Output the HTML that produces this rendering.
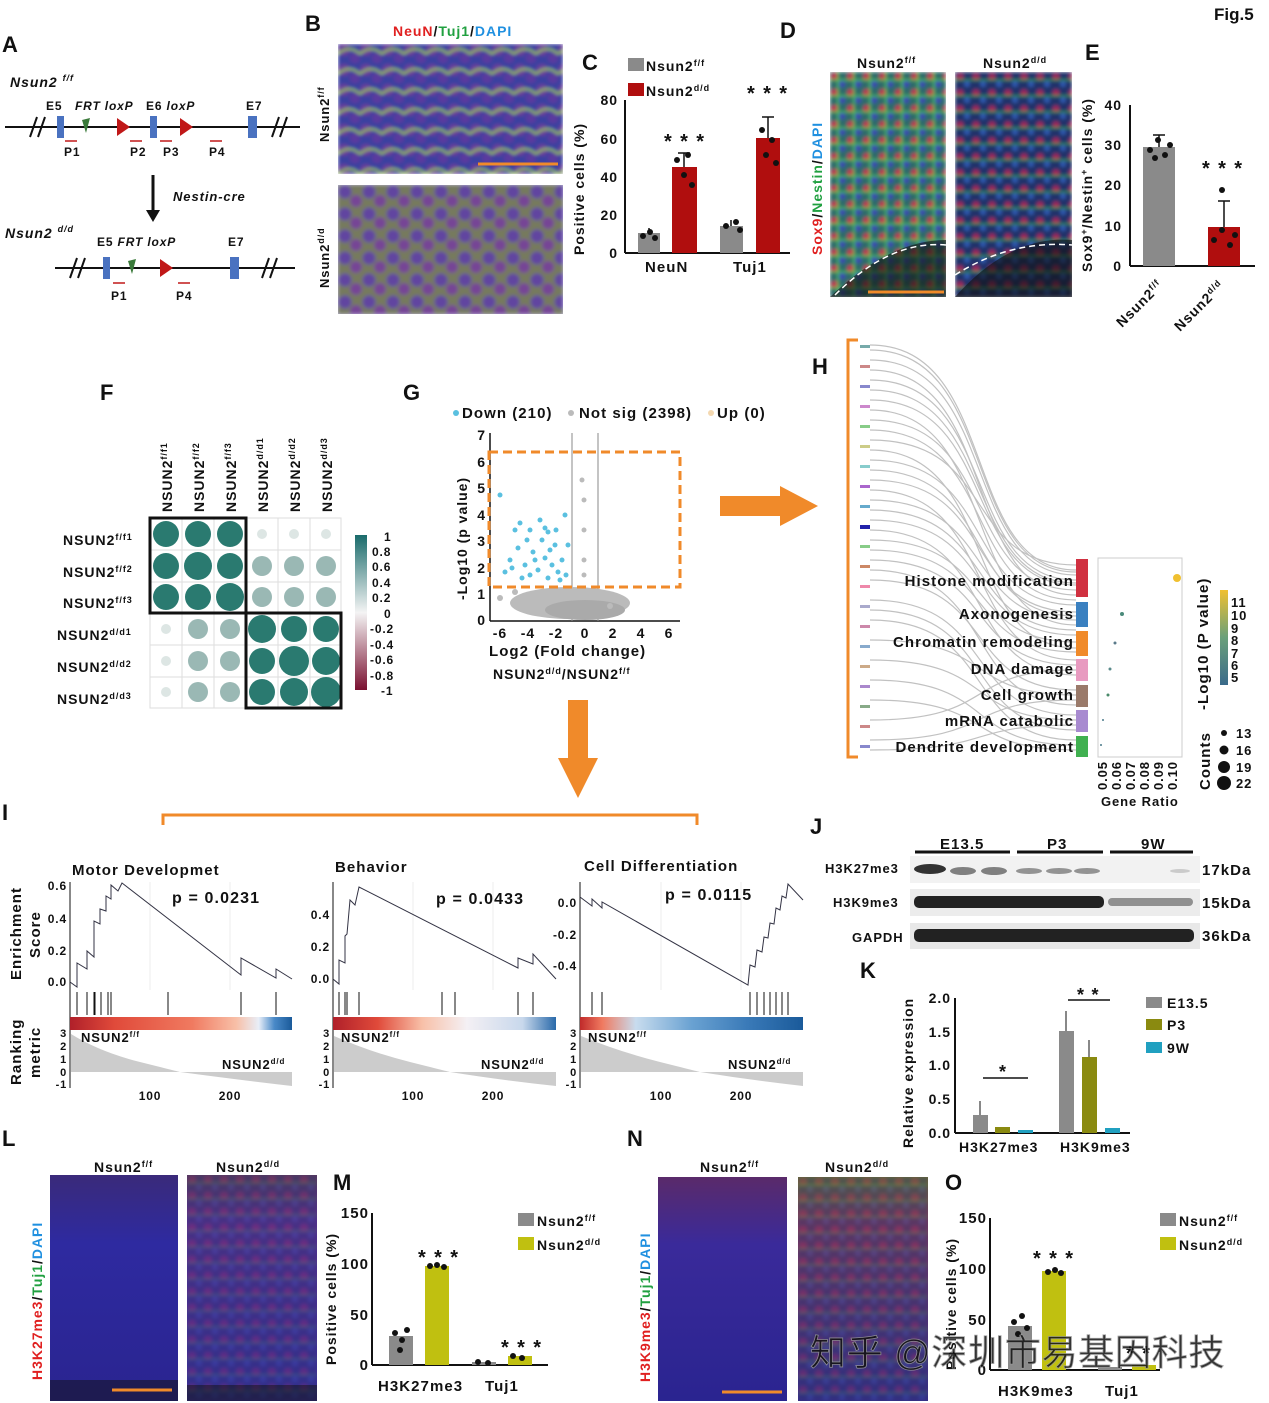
<!DOCTYPE html>
<html><head><meta charset="utf-8"><style>
html,body{margin:0;padding:0;background:#fff}
svg{display:block}
text{font-family:"Liberation Sans",Arial,sans-serif;font-weight:bold;fill:#111;letter-spacing:0.07em}
</style></head><body>
<svg width="1269" height="1403" viewBox="0 0 1269 1403" xmlns="http://www.w3.org/2000/svg">
<defs>
<filter id="bl"><feGaussianBlur stdDeviation="1.8"/></filter>
<pattern id="nuc" width="22" height="20" patternUnits="userSpaceOnUse">
<rect width="22" height="20" fill="#3a3fa0"/>
<circle cx="6" cy="6" r="6" fill="#6a3c9a"/><circle cx="17" cy="14" r="5.5" fill="#5a3a9e"/>
<path d="M0 10 Q11 0 22 10" stroke="#9cc63a" stroke-width="2" fill="none"/>
</pattern>
<pattern id="nuc2" width="24" height="22" patternUnits="userSpaceOnUse">
<rect width="24" height="22" fill="#8a9a3a"/>
<circle cx="7" cy="7" r="6.5" fill="#6a4aa0"/><circle cx="18" cy="16" r="6" fill="#8a4a90"/>
</pattern>
<pattern id="sox" width="16" height="16" patternUnits="userSpaceOnUse">
<rect width="16" height="16" fill="#2d6a6a"/>
<circle cx="5" cy="5" r="4" fill="#c03050"/><circle cx="12" cy="12" r="3.5" fill="#3a4ab0"/>
<path d="M0 8 L16 8 M8 0 L8 16" stroke="#4fc84f" stroke-width="1.5"/>
</pattern>
<pattern id="sox2" width="16" height="16" patternUnits="userSpaceOnUse">
<rect width="16" height="16" fill="#24306a"/>
<circle cx="5" cy="5" r="3.5" fill="#a02858"/><circle cx="12" cy="12" r="3" fill="#2e5ab0"/>
<path d="M0 8 L16 8" stroke="#3aa84a" stroke-width="1.2"/>
</pattern>
<linearGradient id="gL" x1="0" y1="0" x2="0" y2="1"><stop offset="0" stop-color="#3a2a7a"/><stop offset="0.3" stop-color="#2e2aa0"/><stop offset="1" stop-color="#2a2490"/></linearGradient>
<linearGradient id="gL2" x1="0" y1="0" x2="0" y2="1"><stop offset="0" stop-color="#5a3a60"/><stop offset="0.2" stop-color="#5a3090"/><stop offset="1" stop-color="#3a2e9a"/></linearGradient>
<linearGradient id="gN" x1="0" y1="0" x2="0" y2="1"><stop offset="0" stop-color="#5a2a6a"/><stop offset="0.3" stop-color="#3a2a9a"/><stop offset="1" stop-color="#2a2490"/></linearGradient>
<linearGradient id="gN2" x1="0" y1="0" x2="0" y2="1"><stop offset="0" stop-color="#6a6a3a"/><stop offset="0.2" stop-color="#7a3a60"/><stop offset="1" stop-color="#3a2e8a"/></linearGradient>
<linearGradient id="cbF" x1="0" y1="0" x2="0" y2="1"><stop offset="0" stop-color="#1a6b6b"/><stop offset="0.5" stop-color="#f4f4f4"/><stop offset="1" stop-color="#7a1030"/></linearGradient>
<linearGradient id="cbH" x1="0" y1="0" x2="0" y2="1"><stop offset="0" stop-color="#f0c030"/><stop offset="0.5" stop-color="#6aa07a"/><stop offset="1" stop-color="#3a6a8a"/></linearGradient>
<linearGradient id="rb1" x1="0" x2="1"><stop offset="0" stop-color="#b0202a"/><stop offset="0.2" stop-color="#e04a3a"/><stop offset="0.55" stop-color="#f07a60"/><stop offset="0.75" stop-color="#f8c0a8"/><stop offset="0.85" stop-color="#e8eef8"/><stop offset="0.92" stop-color="#4a8ac8"/><stop offset="1" stop-color="#1a5a9a"/></linearGradient>
<linearGradient id="rb2" x1="0" x2="1"><stop offset="0" stop-color="#b0202a"/><stop offset="0.2" stop-color="#e04a3a"/><stop offset="0.4" stop-color="#f8c0a8"/><stop offset="0.6" stop-color="#f4f0f4"/><stop offset="0.85" stop-color="#c8d8ec"/><stop offset="1" stop-color="#2a6aaa"/></linearGradient>
<linearGradient id="rb3" x1="0" x2="1"><stop offset="0" stop-color="#c02a2a"/><stop offset="0.1" stop-color="#f07a60"/><stop offset="0.25" stop-color="#c8dcee"/><stop offset="0.5" stop-color="#6aa2d2"/><stop offset="0.75" stop-color="#3a7ab8"/><stop offset="1" stop-color="#1a5a9a"/></linearGradient>
</defs>

<text x="1214" y="20" font-size="17" style="letter-spacing:0">Fig.5</text>

<!-- A -->
<text x="2" y="52" font-size="22">A</text>
<text x="10" y="87" font-size="14" font-style="italic">Nsun2 <tspan font-size="9" dy="-6">f/f</tspan></text>
<line x1="5" y1="127" x2="300" y2="127" stroke="#111" stroke-width="2"/>
<path d="M30 137 L37 117 M38 137 L45 117 M272 137 L279 117 M280 137 L287 117" stroke="#111" stroke-width="2"/>
<rect x="57" y="116" width="7" height="22" fill="#4a72c0"/><rect x="150" y="116" width="7" height="22" fill="#4a72c0"/><rect x="248" y="116" width="9" height="22" fill="#4a72c0"/>
<polygon points="82,120 90,118 86,133" fill="#3a7a3a"/>
<polygon points="117,118 130,127 117,136" fill="#c01818"/><polygon points="180,118 193,127 180,136" fill="#c01818"/>
<text x="46" y="110" font-size="12">E5</text><text x="75" y="110" font-size="12" font-style="italic">FRT loxP</text><text x="146" y="110" font-size="12">E6 <tspan font-style="italic">loxP</tspan></text><text x="246" y="110" font-size="12">E7</text>
<g stroke="#c01818" stroke-width="1.5"><line x1="65" y1="141" x2="77" y2="141"/><line x1="130" y1="141" x2="142" y2="141"/><line x1="160" y1="141" x2="172" y2="141"/><line x1="210" y1="141" x2="222" y2="141"/></g>
<text x="64" y="156" font-size="12">P1</text><text x="130" y="156" font-size="12">P2</text><text x="163" y="156" font-size="12">P3</text><text x="209" y="156" font-size="12">P4</text>
<line x1="153" y1="175" x2="153" y2="212" stroke="#111" stroke-width="3"/><polygon points="146,210 160,210 153,222" fill="#111"/>
<text x="173" y="201" font-size="13" font-style="italic">Nestin-cre</text>
<text x="5" y="238" font-size="14" font-style="italic">Nsun2 <tspan font-size="9" dy="-6">d/d</tspan></text>
<line x1="55" y1="268" x2="295" y2="268" stroke="#111" stroke-width="2"/>
<path d="M70 278 L77 258 M78 278 L85 258 M262 278 L269 258 M270 278 L277 258" stroke="#111" stroke-width="2"/>
<rect x="103" y="257" width="7" height="22" fill="#4a72c0"/><rect x="230" y="257" width="9" height="22" fill="#4a72c0"/>
<polygon points="128,261 136,259 132,274" fill="#3a7a3a"/><polygon points="160,259 173,268 160,277" fill="#c01818"/>
<text x="97" y="246" font-size="12">E5 <tspan font-style="italic">FRT loxP</tspan></text><text x="228" y="246" font-size="12">E7</text>
<line x1="113" y1="283" x2="125" y2="283" stroke="#c01818" stroke-width="1.5"/><line x1="178" y1="283" x2="190" y2="283" stroke="#c01818" stroke-width="1.5"/>
<text x="111" y="300" font-size="12">P1</text><text x="176" y="300" font-size="12">P4</text>

<!-- B -->
<text x="305" y="31" font-size="22">B</text>
<text x="393" y="36" font-size="14"><tspan fill="#e02020">NeuN</tspan>/<tspan fill="#20a040">Tuj1</tspan>/<tspan fill="#2090e0">DAPI</tspan></text>
<svg x="338" y="44" width="225" height="130"><rect width="225" height="130" fill="url(#nuc)" filter="url(#bl)"/></svg>
<svg x="338" y="185" width="225" height="129"><rect width="225" height="129" fill="url(#nuc2)" filter="url(#bl)"/><rect width="225" height="129" fill="#5040a0" opacity="0.35"/></svg>
<line x1="478" y1="164" x2="558" y2="164" stroke="#f08a2a" stroke-width="3"/>
<text transform="translate(329,142) rotate(-90)" font-size="13">Nsun2<tspan font-size="9" dy="-5">f/f</tspan></text>
<text transform="translate(329,288) rotate(-90)" font-size="13">Nsun2<tspan font-size="9" dy="-5">d/d</tspan></text>

<!-- C -->
<text x="582" y="70" font-size="22">C</text>
<rect x="628" y="58" width="16" height="13" fill="#8a8a8a"/><text x="646" y="71" font-size="14">Nsun2<tspan font-size="9" dy="-5">f/f</tspan></text>
<rect x="628" y="83" width="16" height="13" fill="#b00e0e"/><text x="646" y="96" font-size="14">Nsun2<tspan font-size="9" dy="-5">d/d</tspan></text>
<line x1="625" y1="100" x2="625" y2="253" stroke="#111" stroke-width="2"/><line x1="625" y1="253" x2="790" y2="253" stroke="#111" stroke-width="2"/>
<g font-size="14" text-anchor="end"><text x="618" y="105">80</text><text x="618" y="144">60</text><text x="618" y="182">40</text><text x="618" y="220">20</text><text x="618" y="258">0</text></g>
<text transform="translate(584,255) rotate(-90)" font-size="14">Positive cells (%)</text>
<rect x="638" y="233" width="22" height="20" fill="#8a8a8a"/><rect x="672" y="167" width="25" height="86" fill="#b00e0e"/>
<rect x="720" y="226" width="23" height="27" fill="#8a8a8a"/><rect x="756" y="138" width="24" height="115" fill="#b00e0e"/>
<g stroke="#111" stroke-width="1.5"><line x1="684" y1="167" x2="684" y2="153"/><line x1="678" y1="153" x2="690" y2="153"/><line x1="768" y1="138" x2="768" y2="117"/><line x1="762" y1="117" x2="774" y2="117"/><line x1="649" y1="233" x2="649" y2="228"/><line x1="731" y1="226" x2="731" y2="220"/></g>
<g fill="#111"><circle cx="643" cy="236" r="3"/><circle cx="650" cy="232" r="3"/><circle cx="655" cy="238" r="3"/><circle cx="677" cy="160" r="3"/><circle cx="688" cy="155" r="3"/><circle cx="684" cy="175" r="3"/><circle cx="692" cy="185" r="3"/><circle cx="726" cy="226" r="3"/><circle cx="736" cy="222" r="3"/><circle cx="740" cy="230" r="3"/><circle cx="762" cy="130" r="3"/><circle cx="772" cy="140" r="3"/><circle cx="766" cy="155" r="3"/><circle cx="776" cy="163" r="3"/></g>
<text x="664" y="148" font-size="20">* * *</text><text x="747" y="100" font-size="20">* * *</text>
<text x="645" y="272" font-size="15">NeuN</text><text x="733" y="272" font-size="15">Tuj1</text>

<!-- D -->
<text x="780" y="38" font-size="22">D</text>
<text x="857" y="68" font-size="14">Nsun2<tspan font-size="9" dy="-5">f/f</tspan></text>
<text x="983" y="68" font-size="14">Nsun2<tspan font-size="9" dy="-5">d/d</tspan></text>
<svg x="830" y="72" width="116" height="225"><rect width="116" height="225" fill="url(#sox)" filter="url(#bl)"/><path d="M0 225 Q60 168 116 168 L116 225Z" fill="#111" opacity="0.6"/></svg>
<svg x="955" y="72" width="117" height="225"><rect width="117" height="225" fill="url(#sox2)" filter="url(#bl)"/><path d="M0 225 Q55 163 117 168 L117 225Z" fill="#111" opacity="0.6"/></svg>
<path d="M835 295 Q890 240 946 245" stroke="#fff" stroke-dasharray="6,4" fill="none" stroke-width="1.5"/>
<path d="M955 275 Q1010 240 1072 245" stroke="#fff" stroke-dasharray="6,4" fill="none" stroke-width="1.5"/>
<line x1="868" y1="292" x2="944" y2="292" stroke="#f08a2a" stroke-width="3"/>
<text transform="translate(822,255) rotate(-90)" font-size="14"><tspan fill="#e02020">Sox9</tspan>/<tspan fill="#20a040">Nestin</tspan>/<tspan fill="#2090e0">DAPI</tspan></text>

<!-- E -->
<text x="1085" y="60" font-size="22">E</text>
<line x1="1130" y1="105" x2="1130" y2="266" stroke="#111" stroke-width="2"/><line x1="1130" y1="266" x2="1255" y2="266" stroke="#111" stroke-width="2"/>
<g font-size="14" text-anchor="end"><text x="1122" y="110">40</text><text x="1122" y="150">30</text><text x="1122" y="190">20</text><text x="1122" y="231">10</text><text x="1122" y="271">0</text></g>
<text transform="translate(1092,272) rotate(-90)" font-size="14">Sox9<tspan font-size="9" dy="-5">+</tspan><tspan dy="5">/Nestin</tspan><tspan font-size="9" dy="-5">+</tspan><tspan dy="5"> cells (%)</tspan></text>
<rect x="1143" y="147" width="32" height="119" fill="#8a8a8a"/><rect x="1208" y="227" width="32" height="39" fill="#b00e0e"/>
<g stroke="#111" stroke-width="1.5"><line x1="1159" y1="147" x2="1159" y2="135"/><line x1="1153" y1="135" x2="1165" y2="135"/><line x1="1224" y1="227" x2="1224" y2="201"/><line x1="1218" y1="201" x2="1230" y2="201"/></g>
<g fill="#111"><circle cx="1150" cy="150" r="3"/><circle cx="1158" cy="140" r="3"/><circle cx="1165" cy="155" r="3"/><circle cx="1170" cy="145" r="3"/><circle cx="1155" cy="158" r="3"/><circle cx="1214" cy="240" r="3"/><circle cx="1222" cy="230" r="3"/><circle cx="1230" cy="245" r="3"/><circle cx="1235" cy="235" r="3"/><circle cx="1222" cy="190" r="3"/></g>
<text x="1202" y="175" font-size="20">* * *</text>
<text transform="translate(1122,328) rotate(-45)" font-size="14">Nsun2<tspan font-size="9" dy="-5">f/f</tspan></text>
<text transform="translate(1180,332) rotate(-45)" font-size="14">Nsun2<tspan font-size="9" dy="-5">d/d</tspan></text>

<!-- F -->
<text x="100" y="400" font-size="22">F</text>
<g font-size="14">
<text transform="translate(172,512) rotate(-90)">NSUN2<tspan font-size="9" dy="-5">f/f1</tspan></text>
<text transform="translate(204,512) rotate(-90)">NSUN2<tspan font-size="9" dy="-5">f/f2</tspan></text>
<text transform="translate(236,512) rotate(-90)">NSUN2<tspan font-size="9" dy="-5">f/f3</tspan></text>
<text transform="translate(268,512) rotate(-90)">NSUN2<tspan font-size="9" dy="-5">d/d1</tspan></text>
<text transform="translate(300,512) rotate(-90)">NSUN2<tspan font-size="9" dy="-5">d/d2</tspan></text>
<text transform="translate(332,512) rotate(-90)">NSUN2<tspan font-size="9" dy="-5">d/d3</tspan></text>
<text x="63" y="545">NSUN2<tspan font-size="9" dy="-5">f/f1</tspan></text>
<text x="63" y="577">NSUN2<tspan font-size="9" dy="-5">f/f2</tspan></text>
<text x="63" y="608">NSUN2<tspan font-size="9" dy="-5">f/f3</tspan></text>
<text x="57" y="640">NSUN2<tspan font-size="9" dy="-5">d/d1</tspan></text>
<text x="57" y="672">NSUN2<tspan font-size="9" dy="-5">d/d2</tspan></text>
<text x="57" y="704">NSUN2<tspan font-size="9" dy="-5">d/d3</tspan></text>
</g>
<g stroke="#ddd" stroke-width="1"><rect x="150" y="518" width="191" height="190" fill="#fff"/>
<path d="M182 518V708M214 518V708M246 518V708M278 518V708M310 518V708M150 550H341M150 582H341M150 613H341M150 645H341M150 677H341"/></g>
<g fill="#2a7a70">
<circle cx="166" cy="534" r="13"/><circle cx="198" cy="534" r="13"/><circle cx="230" cy="534" r="13"/>
<circle cx="166" cy="566" r="13"/><circle cx="198" cy="566" r="14"/><circle cx="230" cy="566" r="13"/>
<circle cx="166" cy="597" r="13"/><circle cx="198" cy="597" r="13"/><circle cx="230" cy="597" r="14"/>
<circle cx="262" cy="629" r="14"/><circle cx="294" cy="629" r="13"/><circle cx="326" cy="629" r="13"/>
<circle cx="262" cy="661" r="13"/><circle cx="294" cy="661" r="15"/><circle cx="326" cy="661" r="14"/>
<circle cx="262" cy="692" r="13"/><circle cx="294" cy="692" r="14"/><circle cx="326" cy="692" r="15"/>
</g>
<g fill="#9ab8b4">
<circle cx="262" cy="566" r="10"/><circle cx="294" cy="566" r="10"/><circle cx="326" cy="566" r="10"/>
<circle cx="262" cy="597" r="10"/><circle cx="294" cy="597" r="10"/><circle cx="326" cy="597" r="10"/>
<circle cx="198" cy="629" r="10"/><circle cx="230" cy="629" r="10"/><circle cx="198" cy="661" r="10"/><circle cx="230" cy="661" r="10"/><circle cx="198" cy="692" r="10"/><circle cx="230" cy="692" r="10"/>
</g>
<g fill="#dde6e4"><circle cx="262" cy="534" r="5"/><circle cx="294" cy="534" r="5"/><circle cx="326" cy="534" r="5"/><circle cx="166" cy="629" r="5"/><circle cx="166" cy="661" r="5"/><circle cx="166" cy="692" r="5"/></g>
<rect x="150" y="518" width="96" height="95" fill="none" stroke="#111" stroke-width="3"/>
<rect x="246" y="613" width="95" height="95" fill="none" stroke="#111" stroke-width="3"/>
<rect x="355" y="535" width="12" height="155" fill="url(#cbF)"/>
<g font-size="12"><text x="384" y="541">1</text><text x="372" y="556">0.8</text><text x="372" y="571">0.6</text><text x="372" y="587">0.4</text><text x="372" y="602">0.2</text><text x="384" y="618">0</text><text x="370" y="633">-0.2</text><text x="370" y="649">-0.4</text><text x="370" y="664">-0.6</text><text x="370" y="680">-0.8</text><text x="381" y="695">-1</text></g>

<!-- G -->
<text x="403" y="400" font-size="22">G</text>
<g font-size="15"><circle cx="456" cy="413" r="3" fill="#5ac0e0"/><text x="462" y="418">Down (210)</text><circle cx="571" cy="413" r="3" fill="#bbb"/><text x="579" y="418">Not sig (2398)</text><circle cx="711" cy="413" r="3" fill="#f4d8b0"/><text x="717" y="418">Up (0)</text></g>
<line x1="490" y1="433" x2="490" y2="621" stroke="#111" stroke-width="1.5"/><line x1="490" y1="621" x2="680" y2="621" stroke="#111" stroke-width="1.5"/>
<g font-size="14" text-anchor="end"><text x="486" y="440">7</text><text x="486" y="467">6</text><text x="486" y="493">5</text><text x="486" y="520">4</text><text x="486" y="546">3</text><text x="486" y="573">2</text><text x="486" y="599">1</text><text x="486" y="625">0</text></g>
<g font-size="14" text-anchor="middle"><text x="500" y="638">-6</text><text x="528" y="638">-4</text><text x="556" y="638">-2</text><text x="585" y="638">0</text><text x="613" y="638">2</text><text x="641" y="638">4</text><text x="669" y="638">6</text></g>
<text transform="translate(467,600) rotate(-90)" font-size="14">-Log10 (p value)</text>
<text x="489" y="656" font-size="15">Log2 (Fold change)</text>
<text x="493" y="679" font-size="14">NSUN2<tspan font-size="9" dy="-5">d/d</tspan><tspan dy="5">/NSUN2</tspan><tspan font-size="9" dy="-5">f/f</tspan></text>
<line x1="572" y1="433" x2="572" y2="621" stroke="#888"/><line x1="598" y1="433" x2="598" y2="621" stroke="#888"/>
<ellipse cx="570" cy="603" rx="60" ry="16" fill="#bbb"/>
<ellipse cx="585" cy="610" rx="40" ry="10" fill="#aaa"/>
<g fill="#bbb"><circle cx="500" cy="598" r="3"/><circle cx="515" cy="592" r="3"/><circle cx="610" cy="606" r="3"/><circle cx="625" cy="604" r="3"/><circle cx="584" cy="500" r="2.5"/><circle cx="584" cy="530" r="2.5"/><circle cx="584" cy="560" r="2.5"/><circle cx="584" cy="575" r="2.5"/><circle cx="582" cy="480" r="2.5"/></g>
<g fill="#5ac0e0">
<circle cx="500" cy="495" r="2.5"/><circle cx="520" cy="523" r="2.5"/><circle cx="530" cy="530" r="2.5"/><circle cx="540" cy="520" r="2.5"/><circle cx="548" cy="532" r="2.5"/><circle cx="555" cy="545" r="2.5"/><circle cx="565" cy="515" r="2.5"/><circle cx="510" cy="560" r="2.5"/><circle cx="518" cy="548" r="2.5"/><circle cx="525" cy="565" r="2.5"/><circle cx="533" cy="552" r="2.5"/><circle cx="538" cy="570" r="2.5"/><circle cx="545" cy="558" r="2.5"/><circle cx="552" cy="565" r="2.5"/><circle cx="558" cy="572" r="2.5"/><circle cx="562" cy="560" r="2.5"/><circle cx="566" cy="575" r="2.5"/><circle cx="530" cy="575" r="2.5"/><circle cx="505" cy="572" r="2.5"/><circle cx="542" cy="540" r="2.5"/><circle cx="556" cy="530" r="2.5"/><circle cx="568" cy="545" r="2.5"/><circle cx="548" cy="578" r="2.5"/><circle cx="522" cy="578" r="2.5"/>
<circle cx="527" cy="540" r="2.5"/><circle cx="535" cy="560" r="2.5"/><circle cx="512" cy="568" r="2.5"/><circle cx="550" cy="550" r="2.5"/><circle cx="560" cy="580" r="2.5"/><circle cx="545" cy="528" r="2.5"/><circle cx="515" cy="530" r="2.5"/>
</g>
<rect x="489" y="452" width="191" height="135" fill="none" stroke="#f08a2a" stroke-width="3" stroke-dasharray="9,5"/>

<!-- arrows -->
<rect x="720" y="496" width="62" height="20" fill="#f08a2a"/><polygon points="780,486 818,506 780,526" fill="#f08a2a"/>
<rect x="568" y="700" width="20" height="60" fill="#f08a2a"/><polygon points="558,758 598,758 578,798" fill="#f08a2a"/>

<!-- H -->
<text x="812" y="374" font-size="22">H</text>
<path d="M858 340 H848 V757 H858" stroke="#f08a2a" stroke-width="3" fill="none"/>
<g fill="none" stroke="#bbb" stroke-width="1.2" opacity="0.9">
<path d="M870 345 C1000 345 960 570 1076 570"/><path d="M870 360 C1000 360 960 575 1076 575"/><path d="M870 380 C1000 380 960 580 1076 580"/><path d="M870 400 C1000 400 960 585 1076 585"/><path d="M870 420 C1000 420 960 590 1076 590"/><path d="M870 440 C1000 440 960 565 1076 565"/><path d="M870 460 C1000 460 960 605 1076 605"/><path d="M870 480 C1000 480 960 612 1076 612"/><path d="M870 500 C1000 500 960 620 1076 620"/><path d="M870 520 C1000 520 960 635 1076 635"/><path d="M870 540 C1000 540 960 642 1076 642"/><path d="M870 560 C1000 560 960 665 1076 665"/><path d="M870 580 C1000 580 960 690 1076 690"/><path d="M870 600 C1000 600 960 715 1076 715"/><path d="M870 620 C1000 620 960 740 1076 740"/><path d="M870 640 C1000 640 960 695 1076 695"/><path d="M870 660 C1000 660 960 720 1076 720"/><path d="M870 680 C1000 680 960 745 1076 745"/><path d="M870 700 C1000 700 960 750 1076 750"/><path d="M870 720 C1000 720 960 670 1076 670"/><path d="M870 740 C1000 740 960 700 1076 700"/><path d="M870 750 C1000 750 960 725 1076 725"/><path d="M870 370 C1000 370 960 595 1076 595"/><path d="M870 410 C1000 410 960 625 1076 625"/><path d="M870 450 C1000 450 960 648 1076 648"/><path d="M870 490 C1000 490 960 660 1076 660"/><path d="M870 530 C1000 530 960 675 1076 675"/><path d="M870 570 C1000 570 960 705 1076 705"/><path d="M870 610 C1000 610 960 730 1076 730"/>
<path d="M870 350 C1000 350 960 572 1076 572"/><path d="M870 390 C1000 390 960 583 1076 583"/><path d="M870 430 C1000 430 960 600 1076 600"/><path d="M870 470 C1000 470 960 616 1076 616"/><path d="M870 510 C1000 510 960 630 1076 630"/><path d="M870 550 C1000 550 960 652 1076 652"/>
</g>
<g>
<rect x="860" y="345" width="10" height="3" fill="#7aa"/><rect x="860" y="365" width="10" height="3" fill="#c88"/><rect x="860" y="385" width="10" height="3" fill="#88c"/><rect x="860" y="405" width="10" height="3" fill="#c8c"/><rect x="860" y="425" width="10" height="3" fill="#8c8"/><rect x="860" y="445" width="10" height="3" fill="#cc8"/><rect x="860" y="465" width="10" height="3" fill="#8cc"/><rect x="860" y="485" width="10" height="3" fill="#a6c"/><rect x="860" y="505" width="10" height="3" fill="#6ac"/><rect x="860" y="525" width="10" height="4" fill="#22a"/><rect x="860" y="545" width="10" height="3" fill="#8c8"/><rect x="860" y="565" width="10" height="3" fill="#c86"/><rect x="860" y="585" width="10" height="3" fill="#e8a"/><rect x="860" y="605" width="10" height="3" fill="#aac"/><rect x="860" y="625" width="10" height="3" fill="#c8a"/><rect x="860" y="645" width="10" height="3" fill="#8ac"/><rect x="860" y="665" width="10" height="3" fill="#ca8"/><rect x="860" y="685" width="10" height="3" fill="#a8c"/><rect x="860" y="705" width="10" height="3" fill="#8a8"/><rect x="860" y="725" width="10" height="3" fill="#c88"/><rect x="860" y="745" width="10" height="3" fill="#88c"/>
</g>
<rect x="1076" y="559" width="12" height="38" fill="#d03040"/>
<rect x="1076" y="602" width="12" height="25" fill="#3a80c0"/>
<rect x="1076" y="631" width="12" height="25" fill="#f08a2a"/>
<rect x="1076" y="659" width="12" height="22" fill="#e89ac0"/>
<rect x="1076" y="685" width="12" height="22" fill="#9a7a6a"/>
<rect x="1076" y="710" width="12" height="22" fill="#a88ad0"/>
<rect x="1076" y="736" width="12" height="21" fill="#40b050"/>
<g font-size="15" text-anchor="end"><text x="1074" y="586">Histone modification</text><text x="1074" y="619">Axonogenesis</text><text x="1074" y="647">Chromatin remodeling</text><text x="1074" y="674">DNA damage</text><text x="1074" y="700">Cell growth</text><text x="1074" y="726">mRNA catabolic</text><text x="1074" y="752">Dendrite development</text></g>
<rect x="1098" y="558" width="84" height="199" fill="#fff" stroke="#ccc"/>
<circle cx="1177" cy="578" r="4" fill="#f0c030"/><circle cx="1122" cy="614" r="2" fill="#4a8a7a"/><circle cx="1115" cy="643" r="1.5" fill="#5a7a8a"/><circle cx="1110" cy="669" r="1.5" fill="#5a8a8a"/><circle cx="1108" cy="695" r="1.5" fill="#4a8a6a"/><circle cx="1103" cy="720" r="1" fill="#4a7a8a"/><circle cx="1101" cy="745" r="1" fill="#4a7a8a"/>
<g font-size="13"><text transform="translate(1107,790) rotate(-90)">0.05</text><text transform="translate(1121,790) rotate(-90)">0.06</text><text transform="translate(1135,790) rotate(-90)">0.07</text><text transform="translate(1149,790) rotate(-90)">0.08</text><text transform="translate(1163,790) rotate(-90)">0.09</text><text transform="translate(1177,790) rotate(-90)">0.10</text></g>
<text x="1101" y="806" font-size="13">Gene Ratio</text>
<rect x="1220" y="590" width="8" height="95" fill="url(#cbH)"/>
<g font-size="13" style="letter-spacing:0"><text x="1231" y="607">11</text><text x="1231" y="620">10</text><text x="1231" y="633">9</text><text x="1231" y="645">8</text><text x="1231" y="658">7</text><text x="1231" y="670">6</text><text x="1231" y="682">5</text></g>
<text transform="translate(1208,710) rotate(-90)" font-size="15">-Log10 (P value)</text>
<text transform="translate(1210,790) rotate(-90)" font-size="15">Counts</text>
<circle cx="1224" cy="733" r="3" fill="#111"/><circle cx="1224" cy="750" r="4.5" fill="#111"/><circle cx="1224" cy="767" r="6" fill="#111"/><circle cx="1224" cy="783" r="7" fill="#111"/>
<g font-size="13"><text x="1236" y="738">13</text><text x="1236" y="755">16</text><text x="1236" y="772">19</text><text x="1236" y="788">22</text></g>

<!-- I -->
<text x="2" y="820" font-size="22">I</text>
<path d="M163 825 V815 H697 V825" stroke="#f08a2a" stroke-width="3" fill="none"/>
<text transform="translate(21,980) rotate(-90)" font-size="15">Enrichment</text>
<text transform="translate(40,958) rotate(-90)" font-size="15">Score</text>
<text transform="translate(21,1085) rotate(-90)" font-size="15">Ranking</text>
<text transform="translate(40,1078) rotate(-90)" font-size="15">metric</text>

<!-- GSEA 1 -->
<g>
<text x="72" y="875" font-size="15">Motor Developmet</text>
<text x="172" y="903" font-size="16">p = 0.0231</text>
<g stroke="#eee"><line x1="150" y1="882" x2="150" y2="990"/><line x1="230" y1="882" x2="230" y2="990"/></g>
<line x1="70" y1="882" x2="70" y2="1088" stroke="#111"/>
<g font-size="12" text-anchor="end" style="letter-spacing:0"><text x="67" y="890">0.6</text><text x="67" y="923">0.4</text><text x="67" y="955">0.2</text><text x="67" y="986">0.0</text></g>
<polyline points="70,982 77,987 77,963 87,969 87,951 94,957 94,921 100,924 100,909 106,911 106,896 111,899 111,885 118,891 122,883 241,975 241,958 276,978 276,969 292,979" fill="none" stroke="#334" stroke-width="1"/>
<g stroke="#111"><line x1="77" y1="992" x2="77" y2="1015"/><line x1="87" y1="992" x2="87" y2="1015"/><line x1="94" y1="992" x2="94" y2="1015"/><line x1="95" y1="992" x2="95" y2="1015"/><line x1="101" y1="992" x2="101" y2="1015"/><line x1="108" y1="992" x2="108" y2="1015"/><line x1="111" y1="992" x2="111" y2="1015"/><line x1="168" y1="992" x2="168" y2="1015"/><line x1="241" y1="992" x2="241" y2="1015"/><line x1="276" y1="992" x2="276" y2="1015"/></g>
<rect x="70" y="1017" width="222" height="13" fill="url(#rb1)"/>
<path d="M71 1072 V1034 Q100 1052 140 1062 T180 1072 Z" fill="#ccc"/>
<path d="M180 1072 L292 1072 L292 1086 Q240 1080 180 1072Z" fill="#ccc"/>
<g font-size="11" text-anchor="end" style="letter-spacing:0"><text x="67" y="1037">3</text><text x="67" y="1050">2</text><text x="67" y="1063">1</text><text x="67" y="1076">0</text><text x="67" y="1088">-1</text></g>
<text x="81" y="1042" font-size="13">NSUN2<tspan font-size="8" dy="-5">f/f</tspan></text>
<text x="222" y="1069" font-size="13">NSUN2<tspan font-size="8" dy="-5">d/d</tspan></text>
<text x="150" y="1100" font-size="12" text-anchor="middle">100</text><text x="230" y="1100" font-size="12" text-anchor="middle">200</text>
</g>
<!-- GSEA 2 -->
<g>
<text x="335" y="872" font-size="15">Behavior</text>
<text x="436" y="904" font-size="16">p = 0.0433</text>
<g stroke="#eee"><line x1="413" y1="882" x2="413" y2="990"/><line x1="493" y1="882" x2="493" y2="990"/></g>
<line x1="333" y1="882" x2="333" y2="1088" stroke="#111"/>
<g font-size="12" text-anchor="end" style="letter-spacing:0"><text x="330" y="919">0.4</text><text x="330" y="951">0.2</text><text x="330" y="983">0.0</text></g>
<polyline points="333,979 339,984 339,960 345,963 345,936 347,934 350,900 355,905 359,887 518,968 518,958 533,964 533,954 556,979" fill="none" stroke="#334" stroke-width="1"/>
<g stroke="#111"><line x1="339" y1="992" x2="339" y2="1015"/><line x1="345" y1="992" x2="345" y2="1015"/><line x1="347" y1="992" x2="347" y2="1015"/><line x1="359" y1="992" x2="359" y2="1015"/><line x1="442" y1="992" x2="442" y2="1015"/><line x1="455" y1="992" x2="455" y2="1015"/><line x1="518" y1="992" x2="518" y2="1015"/><line x1="533" y1="992" x2="533" y2="1015"/></g>
<rect x="333" y="1017" width="223" height="13" fill="url(#rb2)"/>
<path d="M334 1072 V1036 Q370 1052 410 1062 T450 1072 Z" fill="#ccc"/>
<path d="M450 1072 L556 1072 L556 1086 Q500 1080 450 1072Z" fill="#ccc"/>
<g font-size="11" text-anchor="end" style="letter-spacing:0"><text x="330" y="1037">3</text><text x="330" y="1050">2</text><text x="330" y="1063">1</text><text x="330" y="1076">0</text><text x="330" y="1088">-1</text></g>
<text x="341" y="1042" font-size="13">NSUN2<tspan font-size="8" dy="-5">f/f</tspan></text>
<text x="481" y="1069" font-size="13">NSUN2<tspan font-size="8" dy="-5">d/d</tspan></text>
<text x="413" y="1100" font-size="12" text-anchor="middle">100</text><text x="493" y="1100" font-size="12" text-anchor="middle">200</text>
</g>
<!-- GSEA 3 -->
<g>
<text x="584" y="871" font-size="15">Cell Differentiation</text>
<text x="665" y="900" font-size="16">p = 0.0115</text>
<g stroke="#eee"><line x1="661" y1="882" x2="661" y2="990"/><line x1="741" y1="882" x2="741" y2="990"/></g>
<line x1="580" y1="882" x2="580" y2="1088" stroke="#111"/>
<g font-size="12" text-anchor="end" style="letter-spacing:0"><text x="577" y="907">0.0</text><text x="577" y="939">-0.2</text><text x="577" y="970">-0.4</text></g>
<polyline points="580,897 592,906 592,899 602,908 602,902 748,985 750,965 755,967 757,950 762,952 764,937 768,938 770,923 774,924 776,908 780,910 782,896 786,898 788,884 803,900" fill="none" stroke="#334" stroke-width="1"/>
<g stroke="#111"><line x1="592" y1="992" x2="592" y2="1015"/><line x1="602" y1="992" x2="602" y2="1015"/><line x1="750" y1="992" x2="750" y2="1015"/><line x1="757" y1="992" x2="757" y2="1015"/><line x1="764" y1="992" x2="764" y2="1015"/><line x1="770" y1="992" x2="770" y2="1015"/><line x1="776" y1="992" x2="776" y2="1015"/><line x1="782" y1="992" x2="782" y2="1015"/><line x1="788" y1="992" x2="788" y2="1015"/></g>
<rect x="580" y="1017" width="223" height="13" fill="url(#rb3)"/>
<path d="M581 1072 V1036 Q620 1052 660 1062 T700 1072 Z" fill="#ccc"/>
<path d="M700 1072 L803 1072 L803 1086 Q750 1080 700 1072Z" fill="#ccc"/>
<g font-size="11" text-anchor="end" style="letter-spacing:0"><text x="577" y="1037">3</text><text x="577" y="1050">2</text><text x="577" y="1063">1</text><text x="577" y="1076">0</text><text x="577" y="1088">-1</text></g>
<text x="588" y="1042" font-size="13">NSUN2<tspan font-size="8" dy="-5">f/f</tspan></text>
<text x="728" y="1069" font-size="13">NSUN2<tspan font-size="8" dy="-5">d/d</tspan></text>
<text x="661" y="1100" font-size="12" text-anchor="middle">100</text><text x="741" y="1100" font-size="12" text-anchor="middle">200</text>
</g>

<!-- J -->
<text x="810" y="834" font-size="22">J</text>
<text x="940" y="849" font-size="15">E13.5</text><text x="1047" y="849" font-size="15">P3</text><text x="1141" y="849" font-size="15">9W</text>
<g stroke="#111" stroke-width="3"><line x1="915" y1="852" x2="1010" y2="852"/><line x1="1017" y1="852" x2="1103" y2="852"/><line x1="1110" y1="852" x2="1193" y2="852"/></g>
<text x="825" y="873" font-size="13">H3K27me3</text><text x="833" y="907" font-size="13">H3K9me3</text><text x="852" y="942" font-size="13">GAPDH</text>
<rect x="910" y="856" width="290" height="27" fill="#f2f2f2"/>
<g fill="#333"><ellipse cx="930" cy="869" rx="16" ry="5"/><ellipse cx="963" cy="871" rx="13" ry="4" opacity="0.6"/><ellipse cx="994" cy="871" rx="13" ry="4" opacity="0.6"/><ellipse cx="1029" cy="871" rx="13" ry="3" opacity="0.5"/><ellipse cx="1059" cy="871" rx="13" ry="3" opacity="0.5"/><ellipse cx="1087" cy="871" rx="13" ry="3" opacity="0.5"/><ellipse cx="1180" cy="871" rx="10" ry="2" opacity="0.2"/></g>
<rect x="910" y="889" width="290" height="27" fill="#ececec"/>
<g fill="#222"><rect x="914" y="896" width="190" height="12" rx="5"/><rect x="1108" y="898" width="85" height="8" rx="4" opacity="0.45"/></g>
<rect x="910" y="923" width="290" height="26" fill="#e8e8e8"/>
<rect x="914" y="929" width="280" height="13" rx="5" fill="#222"/>
<text x="1202" y="875" font-size="15">17kDa</text><text x="1202" y="908" font-size="15">15kDa</text><text x="1202" y="941" font-size="15">36kDa</text>

<!-- K -->
<text x="860" y="978" font-size="22">K</text>
<line x1="955" y1="998" x2="955" y2="1133" stroke="#111" stroke-width="2"/><line x1="955" y1="1133" x2="1130" y2="1133" stroke="#111" stroke-width="2"/>
<g font-size="14" text-anchor="end"><text x="951" y="1003">2.0</text><text x="951" y="1037">1.5</text><text x="951" y="1070">1.0</text><text x="951" y="1104">0.5</text><text x="951" y="1138">0.0</text></g>
<text transform="translate(913,1148) rotate(-90)" font-size="14">Relative expression</text>
<rect x="973" y="1115" width="15" height="18" fill="#8a8a8a"/><rect x="995" y="1127" width="15" height="6" fill="#8a8a10"/><rect x="1018" y="1130" width="15" height="3" fill="#20a0c0"/>
<rect x="1059" y="1031" width="15" height="102" fill="#8a8a8a"/><rect x="1082" y="1057" width="15" height="76" fill="#8a8a10"/><rect x="1105" y="1128" width="15" height="5" fill="#20a0c0"/>
<g stroke="#111"><line x1="980" y1="1115" x2="980" y2="1101"/><line x1="1066" y1="1031" x2="1066" y2="1011"/><line x1="1089" y1="1057" x2="1089" y2="1040"/></g>
<line x1="983" y1="1078" x2="1028" y2="1078" stroke="#111" stroke-width="1.5"/><text x="999" y="1078" font-size="18">*</text>
<line x1="1068" y1="1000" x2="1110" y2="1000" stroke="#111" stroke-width="1.5"/><text x="1077" y="1001" font-size="18">* *</text>
<text x="959" y="1152" font-size="14">H3K27me3</text><text x="1060" y="1152" font-size="14">H3K9me3</text>
<rect x="1146" y="997" width="16" height="11" fill="#8a8a8a"/><text x="1167" y="1008" font-size="14">E13.5</text>
<rect x="1146" y="1019" width="16" height="11" fill="#8a8a10"/><text x="1167" y="1030" font-size="14">P3</text>
<rect x="1146" y="1042" width="16" height="11" fill="#20a0c0"/><text x="1167" y="1053" font-size="14">9W</text>

<!-- L -->
<text x="2" y="1146" font-size="22">L</text>
<text x="94" y="1172" font-size="14">Nsun2<tspan font-size="9" dy="-5">f/f</tspan></text>
<text x="216" y="1172" font-size="14">Nsun2<tspan font-size="9" dy="-5">d/d</tspan></text>
<rect x="50" y="1175" width="128" height="226" fill="url(#gL)"/>
<rect x="187" y="1175" width="130" height="226" fill="url(#gL2)"/>
<svg x="187" y="1175" width="130" height="226"><rect width="130" height="226" fill="url(#sox2)" opacity="0.3" filter="url(#bl)"/></svg>
<rect x="50" y="1380" width="128" height="21" fill="#111" opacity="0.5"/><rect x="187" y="1385" width="130" height="16" fill="#111" opacity="0.5"/>
<line x1="112" y1="1390" x2="172" y2="1390" stroke="#f08a2a" stroke-width="3"/>
<text transform="translate(42,1380) rotate(-90)" font-size="14"><tspan fill="#e02020">H3K27me3</tspan>/<tspan fill="#20a040">Tuj1</tspan>/<tspan fill="#2090e0">DAPI</tspan></text>

<!-- M -->
<text x="333" y="1190" font-size="22">M</text>
<line x1="372" y1="1213" x2="372" y2="1365" stroke="#111" stroke-width="2"/><line x1="372" y1="1365" x2="548" y2="1365" stroke="#111" stroke-width="2"/>
<g font-size="15" text-anchor="end"><text x="369" y="1218">150</text><text x="369" y="1269">100</text><text x="369" y="1320">50</text><text x="369" y="1370">0</text></g>
<text transform="translate(336,1365) rotate(-90)" font-size="14">Positive cells (%)</text>
<rect x="389" y="1336" width="24" height="29" fill="#8a8a8a"/><rect x="425" y="1266" width="24" height="99" fill="#c0c010"/>
<rect x="472" y="1362" width="24" height="3" fill="#8a8a8a"/><rect x="508" y="1356" width="24" height="9" fill="#c0c010"/>
<g fill="#111"><circle cx="395" cy="1333" r="3"/><circle cx="402" cy="1340" r="3"/><circle cx="407" cy="1330" r="3"/><circle cx="400" cy="1350" r="3"/><circle cx="430" cy="1266" r="3"/><circle cx="437" cy="1265" r="3"/><circle cx="444" cy="1267" r="3"/><circle cx="478" cy="1362" r="3"/><circle cx="488" cy="1363" r="3"/><circle cx="513" cy="1356" r="3"/><circle cx="522" cy="1358" r="3"/></g>
<text x="418" y="1264" font-size="20">* * *</text><text x="501" y="1354" font-size="20">* * *</text>
<text x="378" y="1391" font-size="15">H3K27me3</text><text x="485" y="1391" font-size="15">Tuj1</text>
<rect x="518" y="1213" width="16" height="13" fill="#8a8a8a"/><text x="537" y="1226" font-size="14">Nsun2<tspan font-size="9" dy="-5">f/f</tspan></text>
<rect x="518" y="1237" width="16" height="13" fill="#c0c010"/><text x="537" y="1250" font-size="14">Nsun2<tspan font-size="9" dy="-5">d/d</tspan></text>

<!-- N -->
<text x="627" y="1146" font-size="22">N</text>
<text x="700" y="1172" font-size="14">Nsun2<tspan font-size="9" dy="-5">f/f</tspan></text>
<text x="825" y="1172" font-size="14">Nsun2<tspan font-size="9" dy="-5">d/d</tspan></text>
<rect x="658" y="1177" width="129" height="224" fill="url(#gN)"/>
<rect x="798" y="1177" width="130" height="224" fill="url(#gN2)"/>
<svg x="798" y="1177" width="130" height="224"><rect width="130" height="224" fill="url(#sox2)" opacity="0.35" filter="url(#bl)"/></svg>
<line x1="722" y1="1392" x2="782" y2="1392" stroke="#f08a2a" stroke-width="3"/>
<text transform="translate(650,1382) rotate(-90)" font-size="14"><tspan fill="#e02020">H3K9me3</tspan>/<tspan fill="#20a040">Tuj1</tspan>/<tspan fill="#2090e0">DAPI</tspan></text>

<!-- O -->
<text x="945" y="1190" font-size="22">O</text>
<line x1="990" y1="1218" x2="990" y2="1370" stroke="#111" stroke-width="2"/><line x1="990" y1="1370" x2="1160" y2="1370" stroke="#111" stroke-width="2"/>
<g font-size="15" text-anchor="end"><text x="987" y="1223">150</text><text x="987" y="1274">100</text><text x="987" y="1325">50</text><text x="987" y="1375">0</text></g>
<text transform="translate(956,1370) rotate(-90)" font-size="14">Positive cells (%)</text>
<rect x="1008" y="1326" width="24" height="44" fill="#8a8a8a"/><rect x="1042" y="1271" width="24" height="99" fill="#c0c010"/>
<rect x="1098" y="1367" width="24" height="3" fill="#8a8a8a"/><rect x="1132" y="1365" width="24" height="5" fill="#c0c010"/>
<g fill="#111"><circle cx="1014" cy="1322" r="3"/><circle cx="1022" cy="1316" r="3"/><circle cx="1027" cy="1328" r="3"/><circle cx="1018" cy="1334" r="3"/><circle cx="1048" cy="1272" r="3"/><circle cx="1055" cy="1270" r="3"/><circle cx="1061" cy="1273" r="3"/></g>
<text x="1033" y="1265" font-size="20">* * *</text><text x="1126" y="1360" font-size="20">* *</text>
<text x="998" y="1396" font-size="15">H3K9me3</text><text x="1105" y="1396" font-size="15">Tuj1</text>
<rect x="1160" y="1213" width="16" height="13" fill="#8a8a8a"/><text x="1179" y="1226" font-size="14">Nsun2<tspan font-size="9" dy="-5">f/f</tspan></text>
<rect x="1160" y="1237" width="16" height="13" fill="#c0c010"/><text x="1179" y="1250" font-size="14">Nsun2<tspan font-size="9" dy="-5">d/d</tspan></text>

<!-- watermark -->
<text x="810" y="1365" font-size="36" style="font-family:'Liberation Sans','Noto Sans CJK SC',sans-serif;font-weight:normal;letter-spacing:0.02em" fill="#ffffff" stroke="#999" stroke-width="0.8" opacity="0.85">知乎 @深圳市易基因科技</text>
</svg>
</body></html>
